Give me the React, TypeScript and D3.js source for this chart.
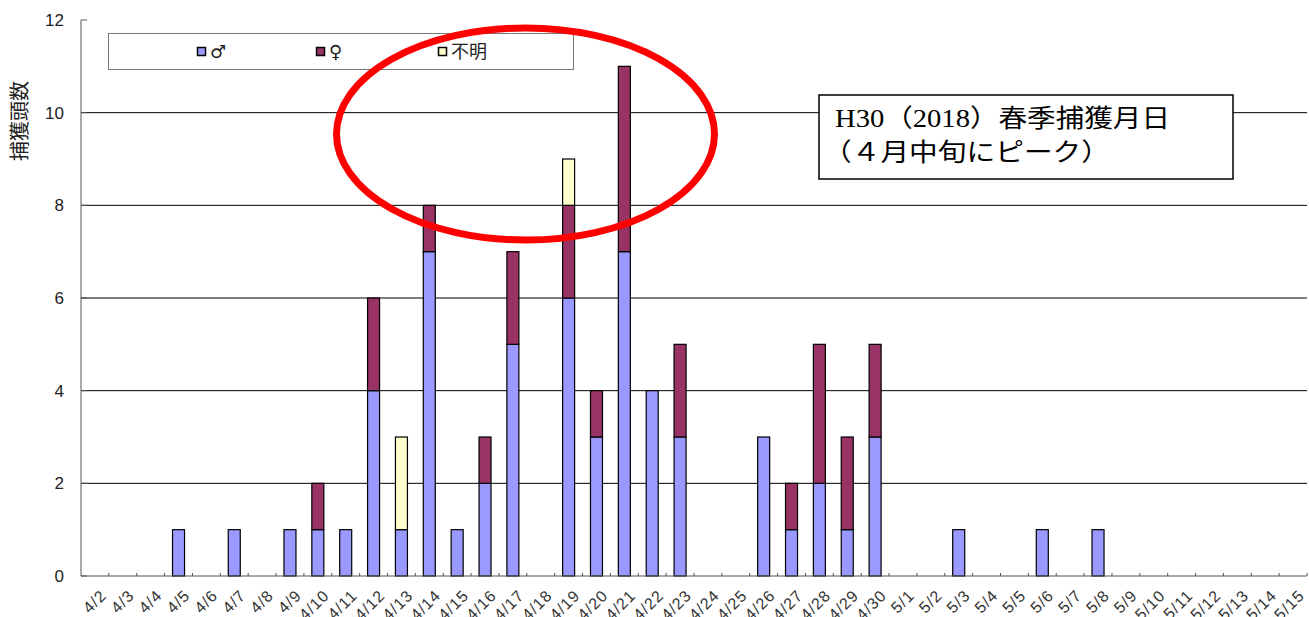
import React from "react";
import * as d3 from "d3";

const dates = [
  "4/2","4/3","4/4","4/5","4/6","4/7","4/8","4/9","4/10","4/11","4/12","4/13","4/14","4/15","4/16",
  "4/17","4/18","4/19","4/20","4/21","4/22","4/23","4/24","4/25","4/26","4/27","4/28","4/29","4/30",
  "5/1","5/2","5/3","5/4","5/5","5/6","5/7","5/8","5/9","5/10","5/11","5/12","5/13","5/14","5/15",
];
const male = [0,0,0,1,0,1,0,1,1,1,4,1,7,1,2,5,0,6,3,7,4,3,0,0,3,1,2,1,3,0,0,1,0,0,1,0,1,0,0,0,0,0,0,0];
const female = [0,0,0,0,0,0,0,0,1,0,2,0,1,0,1,2,0,2,1,4,0,2,0,0,0,1,3,2,2,0,0,0,0,0,0,0,0,0,0,0,0,0,0,0];
const unknown = [0,0,0,0,0,0,0,0,0,0,0,2,0,0,0,0,0,1,0,0,0,0,0,0,0,0,0,0,0,0,0,0,0,0,0,0,0,0,0,0,0,0,0,0];
const seriesNames = ["♂", "♀", "不明"];
const seriesColors = ["#9999FF", "#993366", "#FFFFCC"];
const yTicks = [0, 2, 4, 6, 8, 10, 12];

export default function App() {
  const W = 1309, H = 617;
  const x0 = 81, x1 = 1307, yTop = 20, yBot = 576;
  const x = d3.scaleBand<string>().domain(dates).range([x0, x1]).padding(0);
  const y = d3.scaleLinear().domain([0, 12]).range([yBot, yTop]);
  const bw = x.bandwidth();
  const barW = 12;
  const rows = dates.map((d, i) => ({ date: d, m: male[i], f: female[i], u: unknown[i] }));
  const stack = d3.stack<any>().keys(["m", "f", "u"])(rows);

  return (
    <svg width={W} height={H} style={{ position: "absolute", left: 0, top: 0, background: "#fff" }}
      fontFamily="Arial, 'Liberation Sans', 'Noto Sans CJK JP', sans-serif">
      {/* gridlines */}
      {yTicks.filter(t => t > 0 && t < 12).map(t => (
        <line key={t} x1={x0} x2={x1} y1={y(t)} y2={y(t)} stroke="#000" strokeWidth={1} />
      ))}
      {/* y axis */}
      <line x1={x0} x2={x0} y1={yTop} y2={yBot} stroke="#555" strokeWidth={1} />
      {yTicks.map(t => (
        <g key={t}>
          <line x1={x0} x2={x0 + 6} y1={y(t)} y2={y(t)} stroke="#555" />
          <text x={64} y={y(t)} dy="0.35em" textAnchor="end" fontSize={17} fill="#222">{t}</text>
        </g>
      ))}
      <text transform={`translate(27, 121) rotate(-90)`} textAnchor="middle"
        fontSize={20} fill="#222" fontFamily="'Noto Sans CJK JP', sans-serif">捕獲頭数</text>
      {/* bars */}
      {stack.map((layer, si) => (
        <g key={si}>
          {layer.map((d, i) => d[1] - d[0] > 0 ? (
            <rect key={i} x={(x(dates[i]) as number) + bw / 2 - barW / 2} width={barW}
              y={y(d[1])} height={y(d[0]) - y(d[1])}
              fill={seriesColors[si]} stroke="#000" strokeWidth={1.2} />
          ) : null)}
        </g>
      ))}
      {/* x axis */}
      <line x1={x0} x2={x1} y1={yBot} y2={yBot} stroke="#555" strokeWidth={1} />
      {dates.map((d, i) => (
        <line key={"t" + i} x1={(x(d) as number) + bw} x2={(x(d) as number) + bw} y1={yBot} y2={yBot - 3} stroke="#555" />
      ))}
      {dates.map((d) => (
        <text key={"l" + d} transform={`translate(${(x(d) as number) + bw / 2 + 4}, ${yBot + 12}) rotate(-45)`}
          textAnchor="end" dy="0.75em" fontSize={16} letterSpacing={1} fill="#333">{d}</text>
      ))}
      {/* legend */}
      <rect x={108.5} y={33.5} width={465} height={36} fill="#fff" stroke="#777" strokeWidth={1} />
      {seriesNames.map((n, i) => {
        const lx = [197, 316, 438][i];
        return (
          <g key={n}>
            <rect x={lx + 0.5} y={47.5} width={8} height={8} fill={seriesColors[i]} stroke="#000" strokeWidth={1.5} />
            <text x={lx + 13} y={51.5} dy="0.36em" fontSize={18} fill="#222"
              fontFamily="'DejaVu Sans', 'Noto Sans CJK JP', sans-serif">{n}</text>
          </g>
        );
      })}
      {/* annotation */}
      <rect x={819} y={95} width={414} height={84} fill="#fff" stroke="#000" strokeWidth={1.5} />
      <text x={835} y={127} fontSize={25} fill="#000" textLength={335} lengthAdjust="spacingAndGlyphs"
        fontFamily="'Liberation Serif', 'DejaVu Serif', 'Noto Sans CJK JP', serif">H30（2018）春季捕獲月日</text>
      <text x={823} y={161} fontSize={25} fill="#000" textLength={287} lengthAdjust="spacingAndGlyphs"
        fontFamily="'Noto Sans CJK JP', serif">（４月中旬にピーク）</text>
      {/* red ellipse */}
      <ellipse cx={525.5} cy={134} rx={189} ry={106} fill="none" stroke="#FF0000" strokeWidth={7} />
    </svg>
  );
}
